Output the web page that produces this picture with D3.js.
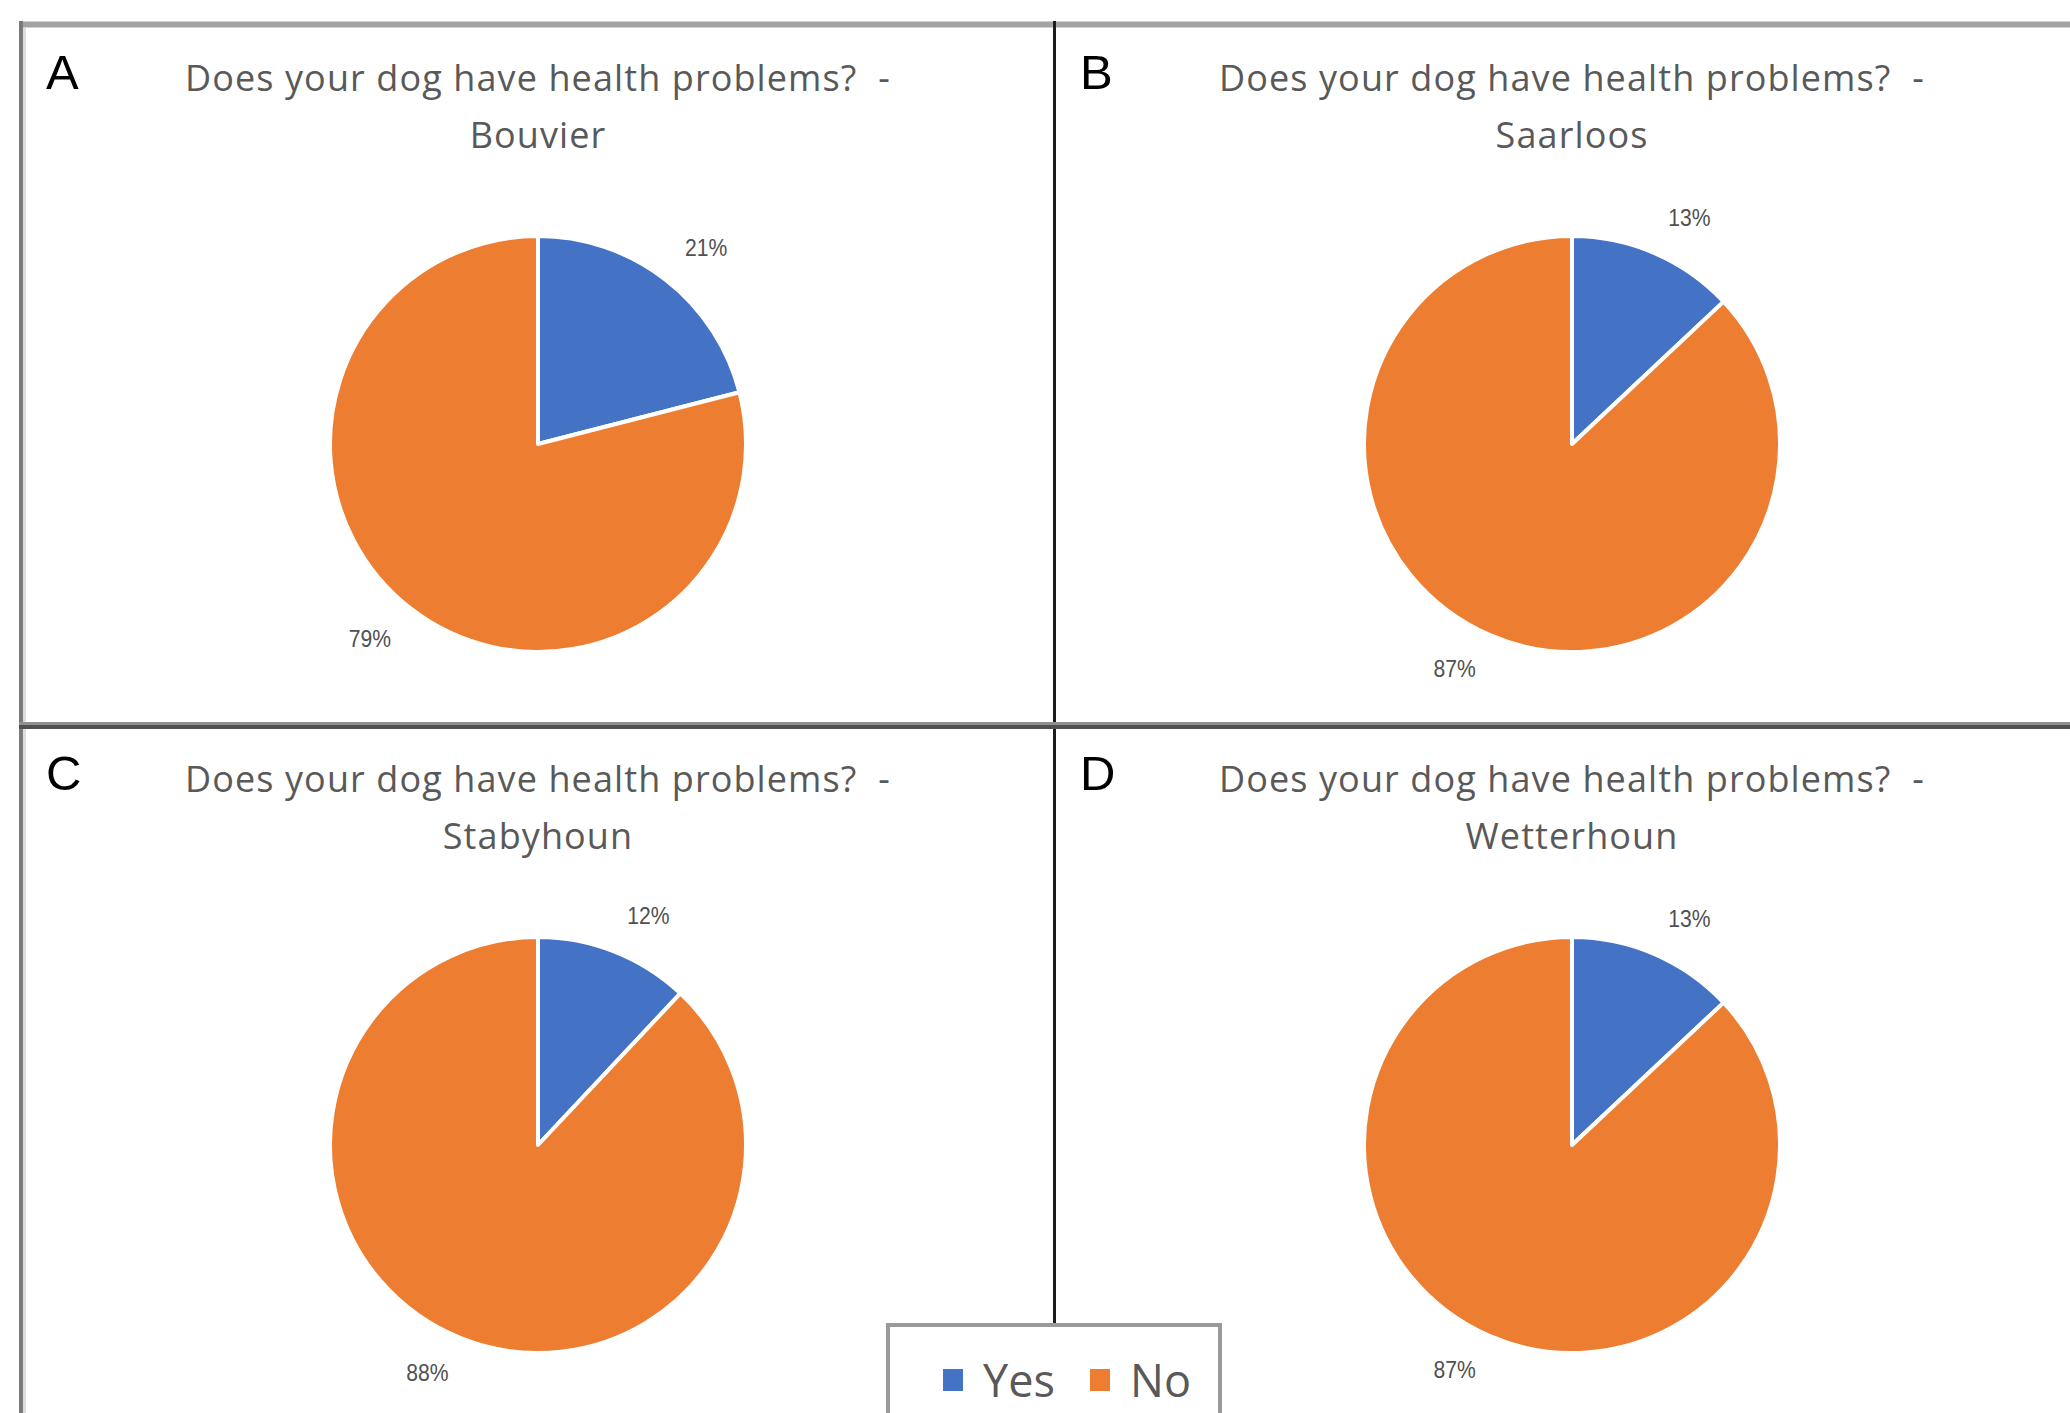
<!DOCTYPE html>
<html>
<head>
<meta charset="utf-8">
<script src="https://cdn.jsdelivr.net/npm/d3@7"></script>
<style>
  html, body { margin: 0; padding: 0; background: #ffffff; }
  svg { display: block; }
  text { white-space: pre; }
</style>
</head>
<body>
<script>
// Survey answers per breed: share of owners answering Yes / No (in %)
const breeds = ["Bouvier", "Saarloos", "Stabyhoun", "Wetterhoun"];
const panelLetters = ["A", "B", "C", "D"];
const categories = ["Yes", "No"];
const yesShare = [21, 13, 12, 13];
const noShare = [79, 87, 88, 87];
const questionText = "Does your dog have health problems?  -";
const categoryColors = ["#4472C4", "#ED7D31"];

const W = 2070, H = 1413;
const svg = d3.select("body").append("svg").attr("width", W).attr("height", H);

// 2 x 2 grid of panels
const col = d3.scaleBand().domain([0, 1]).range([21, 2089]);
const row = d3.scaleBand().domain([0, 1]).range([24, 1426]);
const color = d3.scaleOrdinal().domain(categories).range(categoryColors);

const radius = 208;
const pie = d3.pie().sort(null).value(d => d.value);
const arc = d3.arc().innerRadius(0).outerRadius(radius);

const fontTitle = "'Open Sans', 'Liberation Sans', sans-serif";

breeds.forEach((breed, i) => {
  const c = i % 2, r = Math.floor(i / 2);
  const x0 = col(c), y0 = row(r);
  const cx = x0 + col.bandwidth() / 2;
  const cy = y0 + 420;
  const g = svg.append("g");

  // panel letter
  g.append("text")
    .attr("x", x0 + 25).attr("y", y0 + 65)
    .attr("font-family", "'Liberation Sans', Arial, sans-serif")
    .attr("font-size", 49).attr("fill", "#000")
    .text(panelLetters[i]);

  // two-line title
  const title = g.append("text")
    .attr("text-anchor", "middle")
    .attr("font-family", fontTitle)
    .attr("font-size", 36).attr("letter-spacing", 1.1).attr("fill", "#595959");
  title.append("tspan").attr("x", cx).attr("y", y0 + 67).text(questionText);
  title.append("tspan").attr("x", cx).attr("y", y0 + 124).text(breed);

  const data = categories.map((k, j) => ({ key: k, value: [yesShare[i], noShare[i]][j] }));
  const arcs = pie(data);

  const pg = g.append("g").attr("transform", `translate(${cx},${cy})`);
  pg.selectAll("path").data(arcs).join("path")
    .attr("d", arc)
    .attr("fill", d => color(d.data.key))
    .attr("stroke", "#fff").attr("stroke-width", 4).attr("stroke-linejoin", "round");

  // percentage labels outside the pie
  const labelGap = 27, hw = 24, hh = 10;
  pg.selectAll("text.pct").data(arcs).join("text")
    .attr("class", "pct")
    .attr("text-anchor", "middle")
    .attr("dominant-baseline", "central")
    .attr("font-family", "'Liberation Sans', Arial, sans-serif")
    .attr("font-size", 23).attr("fill", "#505050")
    .attr("transform", d => {
      const a = (d.startAngle + d.endAngle) / 2;
      const sx = Math.sin(a), sy = -Math.cos(a);
      const px = (radius + labelGap) * sx + hw * Math.sign(sx);
      const py = (radius + labelGap) * sy + hh * Math.sign(sy);
      return `translate(${px},${py}) scale(0.92,1)`;
    })
    .text(d => d.data.value + "%");
});

// frame lines
svg.append("line").attr("x1", 19).attr("x2", W).attr("y1", 24.5).attr("y2", 24.5)
  .attr("stroke", "#a3a3a3").attr("stroke-width", 6);
svg.append("line").attr("x1", 21).attr("x2", 21).attr("y1", 21).attr("y2", H)
  .attr("stroke", "#7a7a7a").attr("stroke-width", 4);
svg.append("line").attr("x1", 24.5).attr("x2", 24.5).attr("y1", 28).attr("y2", H)
  .attr("stroke", "#dedede").attr("stroke-width", 3);
svg.append("line").attr("x1", 1054.5).attr("x2", 1054.5).attr("y1", 21).attr("y2", 1325)
  .attr("stroke", "#1c1c1c").attr("stroke-width", 3);
svg.append("line").attr("x1", 19).attr("x2", W).attr("y1", 723.5).attr("y2", 723.5)
  .attr("stroke", "#909090").attr("stroke-width", 3);
svg.append("line").attr("x1", 19).attr("x2", W).attr("y1", 727).attr("y2", 727)
  .attr("stroke", "#505050").attr("stroke-width", 4);

// legend
const legend = svg.append("g");
legend.append("rect")
  .attr("x", 888).attr("y", 1325).attr("width", 332).attr("height", 200)
  .attr("fill", "#fff").attr("stroke", "#9a9a9a").attr("stroke-width", 4);
const legendX = [943, 1090];
categories.forEach((k, j) => {
  legend.append("rect")
    .attr("x", legendX[j]).attr("y", 1369).attr("width", 20).attr("height", 22)
    .attr("fill", color(k));
  legend.append("text")
    .attr("x", legendX[j] + 40).attr("y", 1397)
    .attr("font-family", fontTitle)
    .attr("font-size", 45).attr("fill", "#595959")
    .text(k);
});
</script>
</body>
</html>
